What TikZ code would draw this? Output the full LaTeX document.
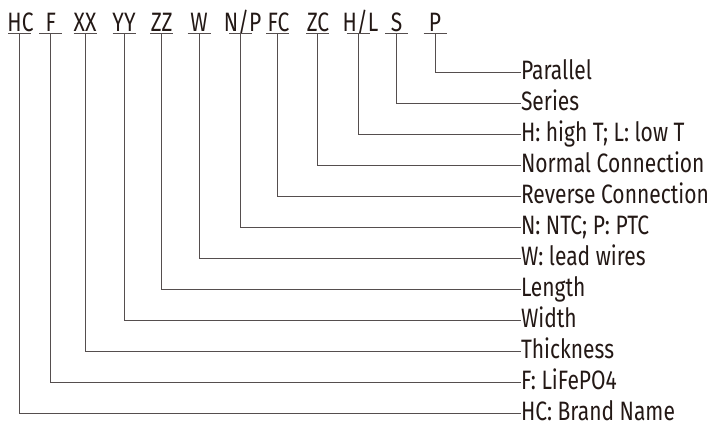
\documentclass[tikz,border=0pt]{standalone}
\usepackage{fontspec}
\setmainfont{Fira Sans}[FakeStretch=0.79]
\usepackage{tikz}
\usetikzlibrary{positioning}
\usetikzlibrary{calc}
\definecolor{myink}{RGB}{35,24,21}
\definecolor{myline}{RGB}{85,78,78}

\begin{document}
\begin{tikzpicture}[x=1pt,y=-1pt]
	\useasboundingbox (0,0) rectangle (717,425);
	\begin{scope}[every node/.style={text=myink,inner sep=0,anchor=base,font=\fontsize{26.6}{30}\selectfont}]
	    \node (hc) at (20.5,31.7) {HC};
	    \node (f) at (50.7,31.7) {F};
	    \node (xx) at (85,31.7) {XX};
	    \node (yy) at (124,31.7) {YY};
	    \node (zz) at (161.7,31.7) {ZZ};
	    \node (w) at (199,31.7) {W};
	    \node (np) at (242.5,31.7) {N/P};
	    \node (fc) at (278.5,31.7) {FC};
	    \node (zc) at (318,31.7) {ZC};
	    \node (hl) at (360.5,31.7) {H/L};
	    \node (s) at (396.7,31.7) {S};
	    \node (p) at (435,31.7) {P};
	\end{scope}

	\begin{scope}[every node/.style={text=myink,inner sep=0,outer sep=0,anchor=west,
	              text height=13.4pt,text depth=0pt,font=\fontsize{26.6}{30}\selectfont}]
	    \node (lp) at (521,72.5) {Parallel};
	    \node (ls) at (521,103.5) {Series};
	    \node (lhl) at (521,134.5) {H: high T; L: low T};
	    \node (lzc) at (521,165.5) {Normal Connection};
	    \node (lfc) at (521,196.5) {Reverse Connection};
	    \node (lnp) at (521,227.5) {N: NTC; P: PTC};
	    \node (lw) at (521,258.5) {W: lead wires};
	    \node (lzz) at (521,289.5) {Length};
	    \node (lyy) at (521,320.5) {Width};
	    \node (lxx) at (521,351.5) {Thickness};
	    \node (lf) at (521,382.5) {F: LiFePO4};
	    \node (lhc) at (521,413.3) {HC: Brand Name};
	\end{scope}

	% underline points below each code
	\coordinate (hc-u) at (19.5,33.7);
	\coordinate (f-u) at (50.7,33.7);
	\coordinate (xx-u) at (85,33.7);
	\coordinate (yy-u) at (124,33.7);
	\coordinate (zz-u) at (161.7,33.7);
	\coordinate (w-u) at (199,33.7);
	\coordinate (np-u) at (240.7,33.7);
	\coordinate (fc-u) at (277.7,33.7);
	\coordinate (zc-u) at (317.7,33.7);
	\coordinate (hl-u) at (358.3,33.7);
	\coordinate (s-u) at (396.7,33.7);
	\coordinate (p-u) at (435,33.7);

	\begin{scope}[myline,line width=0.9pt]
	    \foreach \c in {hc,f,xx,yy,zz,w,np,fc,zc,hl,s,p}
	        \draw ([xshift=-11.5pt]\c-u) -- ([xshift=11.5pt]\c-u);
	    \draw (hc-u) |- (lhc.west);
	    \draw (f-u) |- (lf.west);
	    \draw (xx-u) |- (lxx.west);
	    \draw (yy-u) |- (lyy.west);
	    \draw (zz-u) |- (lzz.west);
	    \draw (w-u) |- (lw.west);
	    \draw (np-u) |- (lnp.west);
	    \draw (fc-u) |- (lfc.west);
	    \draw (zc-u) |- (lzc.west);
	    \draw (hl-u) |- (lhl.west);
	    \draw (s-u) |- (ls.west);
	    \draw (p-u) |- (lp.west);
	\end{scope}
\end{tikzpicture}
\end{document}
